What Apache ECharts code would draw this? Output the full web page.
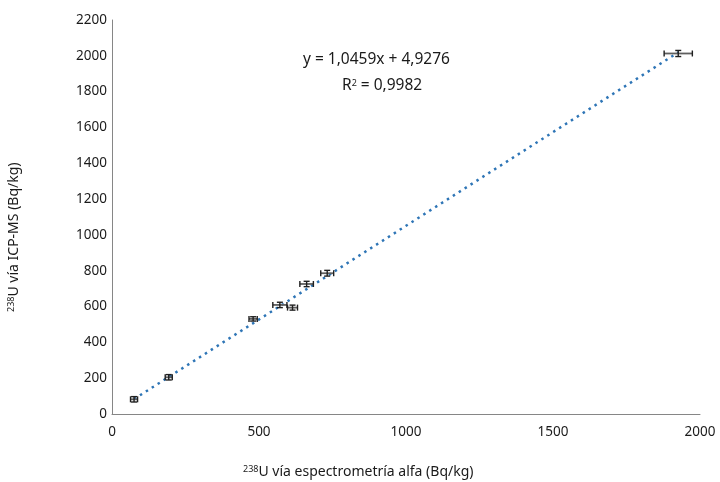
<!DOCTYPE html>
<html>
<head>
<meta charset="utf-8">
<script src="https://cdn.jsdelivr.net/npm/echarts@6/dist/echarts.min.js"></script>
<style>html,body{margin:0;padding:0;background:#fff}#c{width:720px;height:482px}</style>
</head>
<body>
<div id="c"></div>
<script>
// Data
const alphaVals = [75, 193, 480, 571, 614, 662, 732, 1926];   // x: 238U via alpha spectrometry
const icpVals   = [82, 205, 531, 609, 594, 726, 786, 2013];   // y: 238U via ICP-MS
const alphaErr  = [12, 12, 14, 24, 17, 23, 22, 48];
const icpErr    = [15, 15, 12, 15, 14, 15, 16, 17];
const slope = 1.0459, intercept = 4.9276;
const xTicks = {min: 0, max: 2000, interval: 500};
const yTicks = {min: 0, max: 2200, interval: 200};

const xMin = Math.min(...alphaVals), xMax = Math.max(...alphaVals);
const trend = [[xMin, slope * xMin + intercept], [xMax, slope * xMax + intercept]];
const errData = alphaVals.map((x, i) => [x, icpVals[i], alphaErr[i], icpErr[i]]);

const chart = echarts.init(document.getElementById('c'));
const font = '"Noto Sans", "Open Sans", sans-serif';
const plain = v => String(v);
chart.setOption({
  animation: false,
  grid: {left: 112, right: 20, top: 20, bottom: 68},
  xAxis: {
    type: 'value', min: xTicks.min, max: xTicks.max, interval: xTicks.interval,
    axisLine: {show: true, onZero: false, lineStyle: {color: '#868686', width: 1}},
    axisTick: {show: false}, splitLine: {show: false},
    axisLabel: {color: '#1a1a1a', fontSize: 13.5, fontFamily: font, margin: 11, formatter: plain}
  },
  yAxis: {
    type: 'value', min: yTicks.min, max: yTicks.max, interval: yTicks.interval,
    axisLine: {show: true, lineStyle: {color: '#868686', width: 1}},
    axisTick: {show: false}, splitLine: {show: false},
    axisLabel: {color: '#1a1a1a', fontSize: 13.5, fontFamily: font, margin: 5, formatter: plain}
  },
  series: [
    {
      type: 'line', data: trend, symbol: 'none', z: 2,
      lineStyle: {color: '#2E75B6', width: 2.5, type: [2.5, 4.5], cap: 'butt'}
    },
    {
      type: 'custom', z: 3, data: errData,
      renderItem: function (params, api) {
        const x = api.value(0), y = api.value(1), ex = api.value(2), ey = api.value(3);
        const c = api.coord([x, y]);
        const l = api.coord([x - ex, y]), r = api.coord([x + ex, y]);
        const t = api.coord([x, y + ey]), b = api.coord([x, y - ey]);
        const cap = 3;
        const st = {stroke: '#1f1f1f', lineWidth: 1.4};
        const gst = {stroke: '#5f5f5f', lineWidth: 1.8};
        return {type: 'group', children: [
          {type: 'line', shape: {x1: l[0], y1: c[1], x2: r[0], y2: c[1]}, style: gst},
          {type: 'line', shape: {x1: l[0], y1: c[1] - cap, x2: l[0], y2: c[1] + cap}, style: st},
          {type: 'line', shape: {x1: r[0], y1: c[1] - cap, x2: r[0], y2: c[1] + cap}, style: st},
          {type: 'line', shape: {x1: c[0], y1: t[1], x2: c[0], y2: b[1]}, style: st},
          {type: 'line', shape: {x1: c[0] - cap, y1: t[1], x2: c[0] + cap, y2: t[1]}, style: st},
          {type: 'line', shape: {x1: c[0] - cap, y1: b[1], x2: c[0] + cap, y2: b[1]}, style: st}
        ]};
      }
    }
  ],
  graphic: [
    {type: 'text', left: 303, top: 52, style: {text: 'y = 1,0459x + 4,9276', fontSize: 15.5, fontFamily: font, fill: '#1a1a1a'}},
    {type: 'text', left: 342, top: 78, style: {text: '{n|R}{s|2}{n| = 0,9982}', fontFamily: font, fill: '#1a1a1a',
      rich: {n: {fontSize: 15.5, fontFamily: font, fill: '#1a1a1a'}, s: {fontSize: 9, fontFamily: font, fill: '#1a1a1a', padding: [0, 0, 6, 0]}}}},
    {type: 'text', x: 243, y: 465, style: {text: '{s|238}{n|U vía espectrometría alfa (Bq/kg)}', fontFamily: font,
      rich: {n: {fontSize: 14, fontFamily: font, fill: '#1a1a1a'}, s: {fontSize: 9, fontFamily: font, fill: '#1a1a1a', padding: [0, 0, 6, 0]}}}},
    {type: 'text', x: 7, y: 312, rotation: Math.PI / 2, style: {text: '{s|238}{n|U vía ICP-MS (Bq/kg)}', fontFamily: font,
      rich: {n: {fontSize: 14, fontFamily: font, fill: '#1a1a1a'}, s: {fontSize: 9, fontFamily: font, fill: '#1a1a1a', padding: [0, 0, 6, 0]}}}}
  ]
});
</script>
</body>
</html>
